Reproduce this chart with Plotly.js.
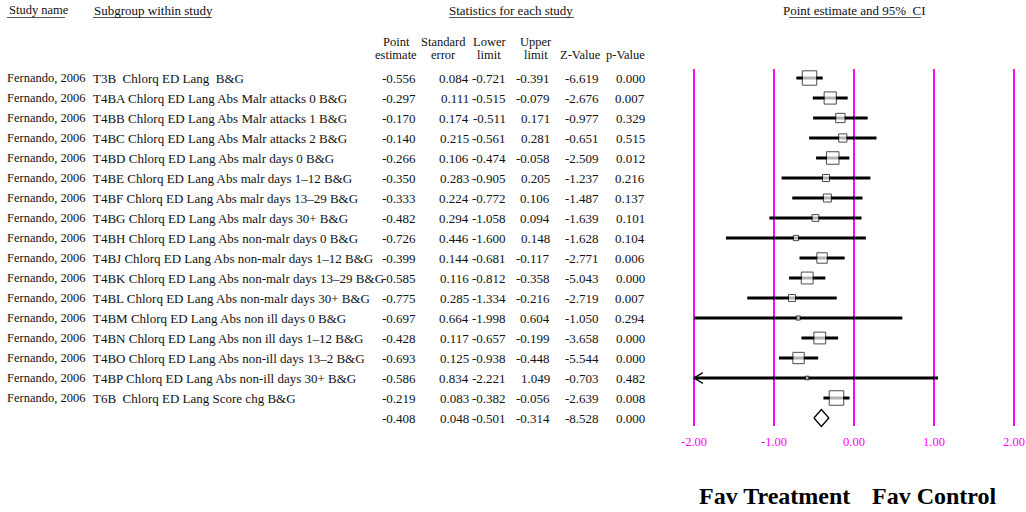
<!DOCTYPE html>
<html>
<head>
<meta charset="utf-8">
<script src="https://cdn.plot.ly/plotly-3.0.1.min.js"></script>
<style>
  html, body { margin: 0; padding: 0; background: #fff; }
  #chart { width: 1026px; height: 512px; }
</style>
</head>
<body>
<div id="chart"></div>
<script>
// Study rows
const studyNames = Array(17).fill("Fernando, 2006");
const subgroups = [
  "T3B\u00a0 Chlorq ED Lang\u00a0 B&G",
  "T4BA Chlorq ED Lang Abs Malr attacks 0 B&G",
  "T4BB Chlorq ED Lang Abs Malr attacks 1 B&G",
  "T4BC Chlorq ED Lang Abs Malr attacks 2 B&G",
  "T4BD Chlorq ED Lang Abs malr days 0 B&G",
  "T4BE Chlorq ED Lang Abs malr days 1\u201312 B&G",
  "T4BF Chlorq ED Lang Abs malr days 13\u201329 B&G",
  "T4BG Chlorq ED Lang Abs malr days 30+ B&G",
  "T4BH Chlorq ED Lang Abs non-malr days 0 B&G",
  "T4BJ Chlorq ED Lang Abs non-malr days 1\u201312 B&G",
  "T4BK Chlorq ED Lang Abs non-malr days 13\u201329 B&G",
  "T4BL Chlorq ED Lang Abs non-malr days 30+ B&G",
  "T4BM Chlorq ED Lang Abs non ill days 0 B&G",
  "T4BN Chlorq ED Lang Abs non ill days 1\u201312 B&G",
  "T4BO Chlorq ED Lang Abs non-ill days 13\u20132 B&G",
  "T4BP Chlorq ED Lang Abs non-ill days 30+ B&G",
  "T6B\u00a0 Chlorq ED Lang Score chg B&G"
];
const pointEstimate = [-0.556, -0.297, -0.170, -0.140, -0.266, -0.350, -0.333, -0.482, -0.726, -0.399, -0.585, -0.775, -0.697, -0.428, -0.693, -0.586, -0.219];
const standardError = [0.084, 0.111, 0.174, 0.215, 0.106, 0.283, 0.224, 0.294, 0.446, 0.144, 0.116, 0.285, 0.664, 0.117, 0.125, 0.834, 0.083];
const lowerLimit = [-0.721, -0.515, -0.511, -0.561, -0.474, -0.905, -0.772, -1.058, -1.600, -0.681, -0.812, -1.334, -1.998, -0.657, -0.938, -2.221, -0.382];
const upperLimit = [-0.391, -0.079, 0.171, 0.281, -0.058, 0.205, 0.106, 0.094, 0.148, -0.117, -0.358, -0.216, 0.604, -0.199, -0.448, 1.049, -0.056];
const zValue = [-6.619, -2.676, -0.977, -0.651, -2.509, -1.237, -1.487, -1.639, -1.628, -2.771, -5.043, -2.719, -1.050, -3.658, -5.544, -0.703, -2.639];
const pValue = [0.000, 0.007, 0.329, 0.515, 0.012, 0.216, 0.137, 0.101, 0.104, 0.006, 0.000, 0.007, 0.294, 0.000, 0.000, 0.482, 0.008];

// Pooled (fixed-effect) summary
const summaryStats = { est: -0.408, se: 0.048, lower: -0.501, upper: -0.314, z: -8.528, p: 0.000 };

// Axis ticks
const tickValues = [-2, -1, 0, 1, 2];
const tickLabels = ["-2.00", "-1.00", "0.00", "1.00", "2.00"];
const footerLabels = ["Fav Treatment", "Fav Control"];

// ---- layout helpers (figure is 1026 x 512, zero margins) ----
const W = 1026, H = 512;
const FONT = "Liberation Serif, Times New Roman, serif";
const INK = "#111";
const MAGENTA = "#ff00ff";
const TXT = 13;
const px = p => p / W;                 // pixel x -> paper
const rowY = p => -3.9 + p / 20;       // pixel y -> row units (20 px per row)
const XMIN = -2, XMAX = 2;

const nRows = pointEstimate.length;
const rows = pointEstimate.map((_, i) => i);
const summaryRow = nRows;

// ---- traces ----
// confidence interval bars (clipped to the drawn scale)
const ciX = [], ciY = [];
rows.forEach(i => {
  ciX.push(Math.max(lowerLimit[i], XMIN), Math.min(upperLimit[i], XMAX), null);
  ciY.push(i, i, null);
});
const ciTrace = {
  x: ciX, y: ciY, type: "scatter", mode: "lines",
  line: { color: "#000", width: 3 }, hoverinfo: "skip", showlegend: false
};

// arrow heads where an interval runs off the scale
const arX = [], arY = [];
rows.forEach(i => {
  if (lowerLimit[i] < XMIN) {
    arX.push(XMIN + 0.11, XMIN, XMIN + 0.11, null);
    arY.push(i - 0.27, i, i + 0.27, null);
  }
  if (upperLimit[i] > XMAX) {
    arX.push(XMAX - 0.11, XMAX, XMAX - 0.11, null);
    arY.push(i - 0.27, i, i + 0.27, null);
  }
});
const arrowTrace = {
  x: arX, y: arY, type: "scatter", mode: "lines",
  line: { color: "#000", width: 1.3 }, hoverinfo: "skip", showlegend: false
};

// point estimate boxes, sized by study precision
const minSE = Math.min(...standardError);
const boxSize = standardError.map(s => Math.max(3.5, 14.5 * Math.pow(minSE / s, 0.6)));
const boxTrace = {
  x: pointEstimate, y: rows, type: "scatter", mode: "markers",
  marker: { symbol: "square", size: boxSize, color: "#fff", line: { color: "#000", width: 1 } },
  hoverinfo: "skip", showlegend: false
};

// summary diamond
const dh = 0.42;
const diamondTrace = {
  x: [summaryStats.lower, summaryStats.est, summaryStats.upper, summaryStats.est, summaryStats.lower],
  y: [summaryRow, summaryRow - dh, summaryRow, summaryRow + dh, summaryRow],
  type: "scatter", mode: "lines", fill: "toself", fillcolor: "#fff",
  line: { color: "#000", width: 1.3 }, hoverinfo: "skip", showlegend: false
};

// ---- text table ----
const annotations = [];
function txt(x, y, text, anchor, size) {
  annotations.push({
    xref: "paper", yref: "y", x: px(x), y: y, text: text,
    showarrow: false, xanchor: anchor || "left", yanchor: "middle",
    font: { family: FONT, size: size || TXT, color: INK }
  });
}

// column headings
txt(7, rowY(10), "Study name", "left", 12.5);
txt(92, rowY(10), "Subgroup within study", "left");
txt(511, rowY(10), "Statistics for each study", "center");
txt(854, rowY(10), "Point estimate and 95%\u00a0 CI", "center");

const colRight = [418, 471, 508, 552, 601, 647];
const colHead = [
  [396, "Point", "estimate"],
  [443, "Standard", "error"],
  [489, "Lower", "limit"],
  [536, "Upper", "limit"],
  [580, "", "Z-Value"],
  [625, "", "p-Value"]
];
colHead.forEach(([cx, l1, l2]) => {
  if (l1) txt(cx, rowY(42), l1, "center", 12.5);
  txt(cx, rowY(55), l2, "center", 12.5);
});

// study rows
const fmt = v => v.toFixed(3);
rows.forEach(i => {
  txt(5, i, studyNames[i], "left", 12.5);
  txt(91, i, subgroups[i], "left");
  const vals = [pointEstimate[i], standardError[i], lowerLimit[i], upperLimit[i], zValue[i], pValue[i]];
  vals.forEach((v, k) => txt(colRight[k], i, fmt(v), "right"));
});
[summaryStats.est, summaryStats.se, summaryStats.lower, summaryStats.upper, summaryStats.z, summaryStats.p]
  .forEach((v, k) => txt(colRight[k], summaryRow, fmt(v), "right"));

// favours labels under the scale
footerLabels.forEach((lab, k) => annotations.push({
  xref: "x", yref: "paper", x: k === 0 ? -1 : 1, y: 1 - 496 / H, text: "<b>" + lab + "</b>",
  showarrow: false, xanchor: "center", yanchor: "middle",
  font: { family: FONT, size: 24, color: "#000" }
}));

// ---- shapes: heading underlines and reference lines ----
const shapes = [];
const underline = (x0, x1) => shapes.push({
  type: "line", xref: "paper", yref: "y", x0: px(x0), x1: px(x1), y0: rowY(17.5), y1: rowY(17.5),
  line: { color: "#555", width: 1 }
});
underline(7, 65);
underline(93, 212);
underline(449, 574);
underline(789, 921);

tickValues.forEach(v => shapes.push({
  type: "line", xref: "x", yref: "y", x0: v, x1: v, y0: rowY(69), y1: rowY(426),
  line: { color: MAGENTA, width: 2 }, layer: "below"
}));

const layout = {
  width: W, height: H,
  margin: { l: 0, r: 0, t: 0, b: 0, pad: 0 },
  paper_bgcolor: "#fff", plot_bgcolor: "#fff",
  font: { family: FONT, size: TXT, color: INK },
  showlegend: false,
  xaxis: {
    domain: [682 / W, 1022 / W], range: [-2.15, 2.1],
    tickmode: "array", tickvals: tickValues, ticktext: tickLabels,
    ticks: "", showline: false, showgrid: false, zeroline: false,
    tickfont: { family: FONT, size: 12.5, color: MAGENTA }, fixedrange: true
  },
  yaxis: {
    domain: [1 - 432 / H, 1], range: [rowY(432), rowY(0)],
    showticklabels: false, ticks: "", showline: false, showgrid: false, zeroline: false, fixedrange: true
  },
  shapes: shapes,
  annotations: annotations
};

Plotly.newPlot("chart", [ciTrace, arrowTrace, boxTrace, diamondTrace], layout, { staticPlot: true, displayModeBar: false });
</script>
</body>
</html>
